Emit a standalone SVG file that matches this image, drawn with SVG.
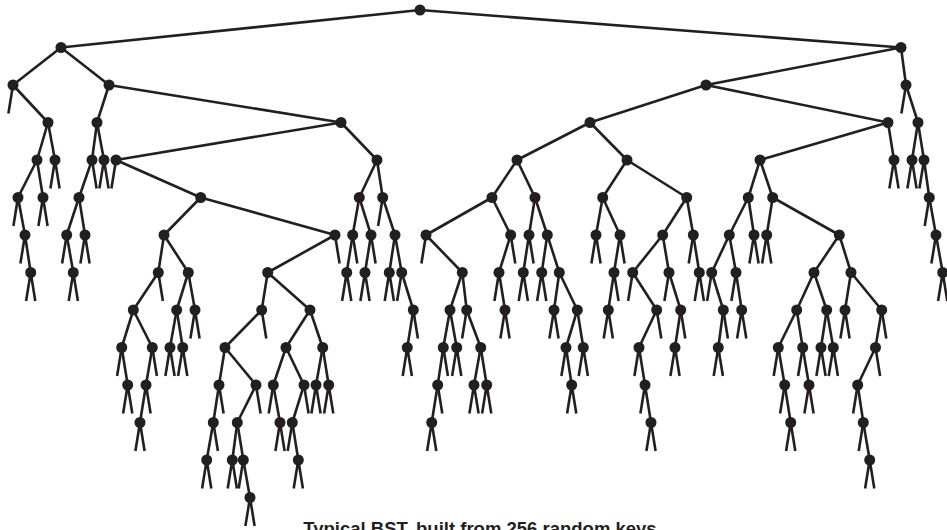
<svg xmlns="http://www.w3.org/2000/svg" xmlns:xlink="http://www.w3.org/1999/xlink" width="947" height="530" viewBox="0 0 947 530">
<style>
.e path{fill:none;stroke:#231f20;stroke-width:2.6}
.nl use{stroke:#231f20;stroke-width:2.6;fill:none}
.nd circle{fill:#231f20}
.cap{font-family:'Liberation Sans',Arial,sans-serif;font-weight:bold;font-size:18.5px;fill:#231f20}
</style>
<defs>
<path id="L" d="M0 0l-4.6 28.5"/>
<path id="R" d="M0 0l4.6 28.5"/>
<path id="B" d="M-4.6 28.5L0 0L4.6 28.5"/>
</defs>
<rect width="947" height="530" fill="#fff"/>
<g id="connectors" class="e">
<path d="M420 10L61 47.5"/><path d="M420 10L901 47.5"/>
<path d="M61 47.5L13 85"/><path d="M61 47.5L109 85"/><path d="M901 47.5L706 85"/><path d="M901 47.5L906 85"/>
<path d="M13 85L48 122.5"/><path d="M109 85L97 122.5"/><path d="M109 85L341 122.5"/><path d="M706 85L590 122.5"/><path d="M706 85L888 122.5"/><path d="M906 85L918 122.5"/>
<path d="M48 122.5L37 160"/><path d="M48 122.5L55 160"/><path d="M97 122.5L92 160"/><path d="M97 122.5L104 160"/><path d="M341 122.5L116 160"/><path d="M341 122.5L377 160"/><path d="M590 122.5L517 160"/><path d="M590 122.5L627 160"/><path d="M888 122.5L760 160"/><path d="M888 122.5L894 160"/><path d="M918 122.5L912 160"/><path d="M918 122.5L924 160"/>
<path d="M37 160L18 197.5"/><path d="M37 160L43 197.5"/><path d="M92 160L79 197.5"/><path d="M116 160L200.7 197.5"/><path d="M377 160L359.3 197.5"/><path d="M377 160L382.7 197.5"/><path d="M517 160L492 197.5"/><path d="M517 160L535 197.5"/><path d="M627 160L602.7 197.5"/><path d="M627 160L686.7 197.5"/><path d="M760 160L748.3 197.5"/><path d="M760 160L772.7 197.5"/><path d="M924 160L929.3 197.5"/>
<path d="M18 197.5L25 235"/><path d="M79 197.5L66.7 235"/><path d="M79 197.5L85 235"/><path d="M200.7 197.5L164 235"/><path d="M200.7 197.5L335 235"/><path d="M359.3 197.5L352.7 235"/><path d="M359.3 197.5L371 235"/><path d="M382.7 197.5L395 235"/><path d="M492 197.5L426 235"/><path d="M492 197.5L510.7 235"/><path d="M535 197.5L529 235"/><path d="M535 197.5L547.3 235"/><path d="M602.7 197.5L596 235"/><path d="M602.7 197.5L620 235"/><path d="M686.7 197.5L662.7 235"/><path d="M686.7 197.5L693.3 235"/><path d="M748.3 197.5L729.3 235"/><path d="M748.3 197.5L754 235"/><path d="M772.7 197.5L766.7 235"/><path d="M772.7 197.5L839.3 235"/><path d="M929.3 197.5L936 235"/>
<path d="M25 235L30.7 272.5"/><path d="M66.7 235L73.3 272.5"/><path d="M164 235L158.3 272.5"/><path d="M164 235L188.3 272.5"/><path d="M335 235L267.7 272.5"/><path d="M352.7 235L346.7 272.5"/><path d="M371 235L365 272.5"/><path d="M395 235L389.3 272.5"/><path d="M395 235L401.7 272.5"/><path d="M426 235L462.3 272.5"/><path d="M510.7 235L499 272.5"/><path d="M529 235L523.3 272.5"/><path d="M547.3 235L541.7 272.5"/><path d="M547.3 235L559.3 272.5"/><path d="M620 235L614 272.5"/><path d="M662.7 235L632.7 272.5"/><path d="M662.7 235L669 272.5"/><path d="M693.3 235L699.3 272.5"/><path d="M729.3 235L711.7 272.5"/><path d="M729.3 235L736 272.5"/><path d="M839.3 235L814 272.5"/><path d="M839.3 235L851 272.5"/><path d="M936 235L942.7 272.5"/>
<path d="M158.3 272.5L133.3 310"/><path d="M188.3 272.5L176.7 310"/><path d="M188.3 272.5L195 310"/><path d="M267.7 272.5L261.7 310"/><path d="M267.7 272.5L310 310"/><path d="M401.7 272.5L413.3 310"/><path d="M462.3 272.5L450 310"/><path d="M462.3 272.5L466.7 310"/><path d="M499 272.5L505 310"/><path d="M559.3 272.5L554 310"/><path d="M559.3 272.5L577.3 310"/><path d="M614 272.5L608.3 310"/><path d="M632.7 272.5L656.7 310"/><path d="M669 272.5L680.7 310"/><path d="M711.7 272.5L723.3 310"/><path d="M736 272.5L741.7 310"/><path d="M814 272.5L796.7 310"/><path d="M814 272.5L826.7 310"/><path d="M851 272.5L845 310"/><path d="M851 272.5L881.7 310"/>
<path d="M133.3 310L121.7 347.5"/><path d="M133.3 310L152.3 347.5"/><path d="M176.7 310L170 347.5"/><path d="M176.7 310L182.7 347.5"/><path d="M261.7 310L225 347.5"/><path d="M310 310L286 347.5"/><path d="M310 310L322.7 347.5"/><path d="M413.3 310L407.3 347.5"/><path d="M450 310L443.3 347.5"/><path d="M450 310L456.7 347.5"/><path d="M466.7 310L480.7 347.5"/><path d="M577.3 310L566 347.5"/><path d="M577.3 310L583.3 347.5"/><path d="M656.7 310L639 347.5"/><path d="M680.7 310L675 347.5"/><path d="M723.3 310L718.3 347.5"/><path d="M796.7 310L778.3 347.5"/><path d="M796.7 310L802.7 347.5"/><path d="M826.7 310L821 347.5"/><path d="M826.7 310L833.3 347.5"/><path d="M881.7 310L875.5 347.5"/>
<path d="M121.7 347.5L127.7 385"/><path d="M152.3 347.5L146 385"/><path d="M225 347.5L219 385"/><path d="M225 347.5L256 385"/><path d="M286 347.5L273.3 385"/><path d="M286 347.5L304 385"/><path d="M322.7 347.5L316 385"/><path d="M322.7 347.5L328.7 385"/><path d="M443.3 347.5L437.7 385"/><path d="M480.7 347.5L474 385"/><path d="M480.7 347.5L486.7 385"/><path d="M566 347.5L571.7 385"/><path d="M639 347.5L645 385"/><path d="M778.3 347.5L784.7 385"/><path d="M802.7 347.5L809 385"/><path d="M875.5 347.5L857.7 385"/>
<path d="M146 385L140 422.5"/><path d="M219 385L213.3 422.5"/><path d="M256 385L237.3 422.5"/><path d="M273.3 385L280 422.5"/><path d="M304 385L292.3 422.5"/><path d="M437.7 385L431.7 422.5"/><path d="M645 385L651 422.5"/><path d="M784.7 385L790.7 422.5"/><path d="M857.7 385L863.3 422.5"/>
<path d="M213.3 422.5L206.7 460"/><path d="M237.3 422.5L232.3 460"/><path d="M237.3 422.5L243.3 460"/><path d="M292.3 422.5L298.3 460"/><path d="M863.3 422.5L869.7 460"/>
<path d="M243.3 460L250 497.5"/>
</g>
<g id="null-links" class="nl">
<use href="#L" x="13" y="85"/><use href="#L" x="906" y="85"/>
<use href="#B" x="55" y="160"/><use href="#R" x="92" y="160"/><use href="#B" x="104" y="160"/><use href="#L" x="116" y="160"/><use href="#B" x="894" y="160"/><use href="#B" x="912" y="160"/><use href="#L" x="924" y="160"/>
<use href="#L" x="18" y="197.5"/><use href="#B" x="43" y="197.5"/><use href="#L" x="382.7" y="197.5"/><use href="#L" x="929.3" y="197.5"/>
<use href="#L" x="25" y="235"/><use href="#L" x="66.7" y="235"/><use href="#B" x="85" y="235"/><use href="#R" x="335" y="235"/><use href="#R" x="352.7" y="235"/><use href="#R" x="371" y="235"/><use href="#L" x="426" y="235"/><use href="#R" x="510.7" y="235"/><use href="#R" x="529" y="235"/><use href="#B" x="596" y="235"/><use href="#R" x="620" y="235"/><use href="#L" x="693.3" y="235"/><use href="#B" x="754" y="235"/><use href="#B" x="766.7" y="235"/><use href="#L" x="936" y="235"/>
<use href="#B" x="30.7" y="272.5"/><use href="#B" x="73.3" y="272.5"/><use href="#R" x="158.3" y="272.5"/><use href="#B" x="346.7" y="272.5"/><use href="#B" x="365" y="272.5"/><use href="#B" x="389.3" y="272.5"/><use href="#L" x="401.7" y="272.5"/><use href="#L" x="499" y="272.5"/><use href="#B" x="523.3" y="272.5"/><use href="#B" x="541.7" y="272.5"/><use href="#R" x="614" y="272.5"/><use href="#L" x="632.7" y="272.5"/><use href="#L" x="669" y="272.5"/><use href="#B" x="699.3" y="272.5"/><use href="#L" x="711.7" y="272.5"/><use href="#L" x="736" y="272.5"/><use href="#B" x="942.7" y="272.5"/>
<use href="#B" x="195" y="310"/><use href="#R" x="261.7" y="310"/><use href="#R" x="413.3" y="310"/><use href="#L" x="466.7" y="310"/><use href="#B" x="505" y="310"/><use href="#B" x="554" y="310"/><use href="#B" x="608.3" y="310"/><use href="#R" x="656.7" y="310"/><use href="#R" x="680.7" y="310"/><use href="#R" x="723.3" y="310"/><use href="#B" x="741.7" y="310"/><use href="#B" x="845" y="310"/><use href="#R" x="881.7" y="310"/>
<use href="#L" x="121.7" y="347.5"/><use href="#R" x="152.3" y="347.5"/><use href="#B" x="170" y="347.5"/><use href="#B" x="182.7" y="347.5"/><use href="#B" x="407.3" y="347.5"/><use href="#R" x="443.3" y="347.5"/><use href="#B" x="456.7" y="347.5"/><use href="#L" x="566" y="347.5"/><use href="#B" x="583.3" y="347.5"/><use href="#L" x="639" y="347.5"/><use href="#B" x="675" y="347.5"/><use href="#B" x="718.3" y="347.5"/><use href="#L" x="778.3" y="347.5"/><use href="#L" x="802.7" y="347.5"/><use href="#B" x="821" y="347.5"/><use href="#B" x="833.3" y="347.5"/><use href="#R" x="875.5" y="347.5"/>
<use href="#B" x="127.7" y="385"/><use href="#R" x="146" y="385"/><use href="#R" x="219" y="385"/><use href="#R" x="256" y="385"/><use href="#L" x="273.3" y="385"/><use href="#R" x="304" y="385"/><use href="#B" x="316" y="385"/><use href="#B" x="328.7" y="385"/><use href="#R" x="437.7" y="385"/><use href="#B" x="474" y="385"/><use href="#B" x="486.7" y="385"/><use href="#B" x="571.7" y="385"/><use href="#L" x="645" y="385"/><use href="#L" x="784.7" y="385"/><use href="#B" x="809" y="385"/><use href="#L" x="857.7" y="385"/>
<use href="#B" x="140" y="422.5"/><use href="#R" x="213.3" y="422.5"/><use href="#B" x="280" y="422.5"/><use href="#L" x="292.3" y="422.5"/><use href="#B" x="431.7" y="422.5"/><use href="#B" x="651" y="422.5"/><use href="#B" x="790.7" y="422.5"/><use href="#L" x="863.3" y="422.5"/>
<use href="#B" x="206.7" y="460"/><use href="#B" x="232.3" y="460"/><use href="#L" x="243.3" y="460"/><use href="#B" x="298.3" y="460"/><use href="#B" x="869.7" y="460"/>
<use href="#B" x="250" y="497.5"/>
</g>
<g id="nodes" class="nd">
<g id="n420"><circle cx="420" cy="10" r="5.5"/></g>
<g id="n61"><circle cx="61" cy="47.5" r="5.5"/></g><g id="n901"><circle cx="901" cy="47.5" r="5.5"/></g>
<g id="n13"><circle cx="13" cy="85" r="5.5"/></g><g id="n109"><circle cx="109" cy="85" r="5.5"/></g><g id="n706"><circle cx="706" cy="85" r="5.5"/></g><g id="n906"><circle cx="906" cy="85" r="5.5"/></g>
<g id="n48"><circle cx="48" cy="122.5" r="5.5"/></g><g id="n97"><circle cx="97" cy="122.5" r="5.5"/></g><g id="n341"><circle cx="341" cy="122.5" r="5.5"/></g><g id="n590"><circle cx="590" cy="122.5" r="5.5"/></g><g id="n888"><circle cx="888" cy="122.5" r="5.5"/></g><g id="n918"><circle cx="918" cy="122.5" r="5.5"/></g>
<g id="n37"><circle cx="37" cy="160" r="5.5"/></g><g id="n55"><circle cx="55" cy="160" r="5.5"/></g><g id="n92"><circle cx="92" cy="160" r="5.5"/></g><g id="n104"><circle cx="104" cy="160" r="5.5"/></g><g id="n116"><circle cx="116" cy="160" r="5.5"/></g><g id="n377"><circle cx="377" cy="160" r="5.5"/></g><g id="n517"><circle cx="517" cy="160" r="5.5"/></g><g id="n627"><circle cx="627" cy="160" r="5.5"/></g><g id="n760"><circle cx="760" cy="160" r="5.5"/></g><g id="n894"><circle cx="894" cy="160" r="5.5"/></g><g id="n912"><circle cx="912" cy="160" r="5.5"/></g><g id="n924"><circle cx="924" cy="160" r="5.5"/></g>
<g id="n18"><circle cx="18" cy="197.5" r="5.5"/></g><g id="n43"><circle cx="43" cy="197.5" r="5.5"/></g><g id="n79"><circle cx="79" cy="197.5" r="5.5"/></g><g id="n200_7"><circle cx="200.7" cy="197.5" r="5.5"/></g><g id="n359_3"><circle cx="359.3" cy="197.5" r="5.5"/></g><g id="n382_7"><circle cx="382.7" cy="197.5" r="5.5"/></g><g id="n492"><circle cx="492" cy="197.5" r="5.5"/></g><g id="n535"><circle cx="535" cy="197.5" r="5.5"/></g><g id="n602_7"><circle cx="602.7" cy="197.5" r="5.5"/></g><g id="n686_7"><circle cx="686.7" cy="197.5" r="5.5"/></g><g id="n748_3"><circle cx="748.3" cy="197.5" r="5.5"/></g><g id="n772_7"><circle cx="772.7" cy="197.5" r="5.5"/></g><g id="n929_3"><circle cx="929.3" cy="197.5" r="5.5"/></g>
<g id="n25"><circle cx="25" cy="235" r="5.5"/></g><g id="n66_7"><circle cx="66.7" cy="235" r="5.5"/></g><g id="n85"><circle cx="85" cy="235" r="5.5"/></g><g id="n164"><circle cx="164" cy="235" r="5.5"/></g><g id="n335"><circle cx="335" cy="235" r="5.5"/></g><g id="n352_7"><circle cx="352.7" cy="235" r="5.5"/></g><g id="n371"><circle cx="371" cy="235" r="5.5"/></g><g id="n395"><circle cx="395" cy="235" r="5.5"/></g><g id="n426"><circle cx="426" cy="235" r="5.5"/></g><g id="n510_7"><circle cx="510.7" cy="235" r="5.5"/></g><g id="n529"><circle cx="529" cy="235" r="5.5"/></g><g id="n547_3"><circle cx="547.3" cy="235" r="5.5"/></g><g id="n596"><circle cx="596" cy="235" r="5.5"/></g><g id="n620"><circle cx="620" cy="235" r="5.5"/></g><g id="n662_7"><circle cx="662.7" cy="235" r="5.5"/></g><g id="n693_3"><circle cx="693.3" cy="235" r="5.5"/></g><g id="n729_3"><circle cx="729.3" cy="235" r="5.5"/></g><g id="n754"><circle cx="754" cy="235" r="5.5"/></g><g id="n766_7"><circle cx="766.7" cy="235" r="5.5"/></g><g id="n839_3"><circle cx="839.3" cy="235" r="5.5"/></g><g id="n936"><circle cx="936" cy="235" r="5.5"/></g>
<g id="n30_7"><circle cx="30.7" cy="272.5" r="5.5"/></g><g id="n73_3"><circle cx="73.3" cy="272.5" r="5.5"/></g><g id="n158_3"><circle cx="158.3" cy="272.5" r="5.5"/></g><g id="n188_3"><circle cx="188.3" cy="272.5" r="5.5"/></g><g id="n267_7"><circle cx="267.7" cy="272.5" r="5.5"/></g><g id="n346_7"><circle cx="346.7" cy="272.5" r="5.5"/></g><g id="n365"><circle cx="365" cy="272.5" r="5.5"/></g><g id="n389_3"><circle cx="389.3" cy="272.5" r="5.5"/></g><g id="n401_7"><circle cx="401.7" cy="272.5" r="5.5"/></g><g id="n462_3"><circle cx="462.3" cy="272.5" r="5.5"/></g><g id="n499"><circle cx="499" cy="272.5" r="5.5"/></g><g id="n523_3"><circle cx="523.3" cy="272.5" r="5.5"/></g><g id="n541_7"><circle cx="541.7" cy="272.5" r="5.5"/></g><g id="n559_3"><circle cx="559.3" cy="272.5" r="5.5"/></g><g id="n614"><circle cx="614" cy="272.5" r="5.5"/></g><g id="n632_7"><circle cx="632.7" cy="272.5" r="5.5"/></g><g id="n669"><circle cx="669" cy="272.5" r="5.5"/></g><g id="n699_3"><circle cx="699.3" cy="272.5" r="5.5"/></g><g id="n711_7"><circle cx="711.7" cy="272.5" r="5.5"/></g><g id="n736"><circle cx="736" cy="272.5" r="5.5"/></g><g id="n814"><circle cx="814" cy="272.5" r="5.5"/></g><g id="n851"><circle cx="851" cy="272.5" r="5.5"/></g><g id="n942_7"><circle cx="942.7" cy="272.5" r="5.5"/></g>
<g id="n133_3"><circle cx="133.3" cy="310" r="5.5"/></g><g id="n176_7"><circle cx="176.7" cy="310" r="5.5"/></g><g id="n195"><circle cx="195" cy="310" r="5.5"/></g><g id="n261_7"><circle cx="261.7" cy="310" r="5.5"/></g><g id="n310"><circle cx="310" cy="310" r="5.5"/></g><g id="n413_3"><circle cx="413.3" cy="310" r="5.5"/></g><g id="n450"><circle cx="450" cy="310" r="5.5"/></g><g id="n466_7"><circle cx="466.7" cy="310" r="5.5"/></g><g id="n505"><circle cx="505" cy="310" r="5.5"/></g><g id="n554"><circle cx="554" cy="310" r="5.5"/></g><g id="n577_3"><circle cx="577.3" cy="310" r="5.5"/></g><g id="n608_3"><circle cx="608.3" cy="310" r="5.5"/></g><g id="n656_7"><circle cx="656.7" cy="310" r="5.5"/></g><g id="n680_7"><circle cx="680.7" cy="310" r="5.5"/></g><g id="n723_3"><circle cx="723.3" cy="310" r="5.5"/></g><g id="n741_7"><circle cx="741.7" cy="310" r="5.5"/></g><g id="n796_7"><circle cx="796.7" cy="310" r="5.5"/></g><g id="n826_7"><circle cx="826.7" cy="310" r="5.5"/></g><g id="n845"><circle cx="845" cy="310" r="5.5"/></g><g id="n881_7"><circle cx="881.7" cy="310" r="5.5"/></g>
<g id="n121_7"><circle cx="121.7" cy="347.5" r="5.5"/></g><g id="n152_3"><circle cx="152.3" cy="347.5" r="5.5"/></g><g id="n170"><circle cx="170" cy="347.5" r="5.5"/></g><g id="n182_7"><circle cx="182.7" cy="347.5" r="5.5"/></g><g id="n225"><circle cx="225" cy="347.5" r="5.5"/></g><g id="n286"><circle cx="286" cy="347.5" r="5.5"/></g><g id="n322_7"><circle cx="322.7" cy="347.5" r="5.5"/></g><g id="n407_3"><circle cx="407.3" cy="347.5" r="5.5"/></g><g id="n443_3"><circle cx="443.3" cy="347.5" r="5.5"/></g><g id="n456_7"><circle cx="456.7" cy="347.5" r="5.5"/></g><g id="n480_7"><circle cx="480.7" cy="347.5" r="5.5"/></g><g id="n566"><circle cx="566" cy="347.5" r="5.5"/></g><g id="n583_3"><circle cx="583.3" cy="347.5" r="5.5"/></g><g id="n639"><circle cx="639" cy="347.5" r="5.5"/></g><g id="n675"><circle cx="675" cy="347.5" r="5.5"/></g><g id="n718_3"><circle cx="718.3" cy="347.5" r="5.5"/></g><g id="n778_3"><circle cx="778.3" cy="347.5" r="5.5"/></g><g id="n802_7"><circle cx="802.7" cy="347.5" r="5.5"/></g><g id="n821"><circle cx="821" cy="347.5" r="5.5"/></g><g id="n833_3"><circle cx="833.3" cy="347.5" r="5.5"/></g><g id="n875_5"><circle cx="875.5" cy="347.5" r="5.5"/></g>
<g id="n127_7"><circle cx="127.7" cy="385" r="5.5"/></g><g id="n146"><circle cx="146" cy="385" r="5.5"/></g><g id="n219"><circle cx="219" cy="385" r="5.5"/></g><g id="n256"><circle cx="256" cy="385" r="5.5"/></g><g id="n273_3"><circle cx="273.3" cy="385" r="5.5"/></g><g id="n304"><circle cx="304" cy="385" r="5.5"/></g><g id="n316"><circle cx="316" cy="385" r="5.5"/></g><g id="n328_7"><circle cx="328.7" cy="385" r="5.5"/></g><g id="n437_7"><circle cx="437.7" cy="385" r="5.5"/></g><g id="n474"><circle cx="474" cy="385" r="5.5"/></g><g id="n486_7"><circle cx="486.7" cy="385" r="5.5"/></g><g id="n571_7"><circle cx="571.7" cy="385" r="5.5"/></g><g id="n645"><circle cx="645" cy="385" r="5.5"/></g><g id="n784_7"><circle cx="784.7" cy="385" r="5.5"/></g><g id="n809"><circle cx="809" cy="385" r="5.5"/></g><g id="n857_7"><circle cx="857.7" cy="385" r="5.5"/></g>
<g id="n140"><circle cx="140" cy="422.5" r="5.5"/></g><g id="n213_3"><circle cx="213.3" cy="422.5" r="5.5"/></g><g id="n237_3"><circle cx="237.3" cy="422.5" r="5.5"/></g><g id="n280"><circle cx="280" cy="422.5" r="5.5"/></g><g id="n292_3"><circle cx="292.3" cy="422.5" r="5.5"/></g><g id="n431_7"><circle cx="431.7" cy="422.5" r="5.5"/></g><g id="n651"><circle cx="651" cy="422.5" r="5.5"/></g><g id="n790_7"><circle cx="790.7" cy="422.5" r="5.5"/></g><g id="n863_3"><circle cx="863.3" cy="422.5" r="5.5"/></g>
<g id="n206_7"><circle cx="206.7" cy="460" r="5.5"/></g><g id="n232_3"><circle cx="232.3" cy="460" r="5.5"/></g><g id="n243_3"><circle cx="243.3" cy="460" r="5.5"/></g><g id="n298_3"><circle cx="298.3" cy="460" r="5.5"/></g><g id="n869_7"><circle cx="869.7" cy="460" r="5.5"/></g>
<g id="n250"><circle cx="250" cy="497.5" r="5.5"/></g>
</g>
<text class="cap" x="480" y="535" text-anchor="middle">Typical BST, built from 256 random keys</text>
</svg>
